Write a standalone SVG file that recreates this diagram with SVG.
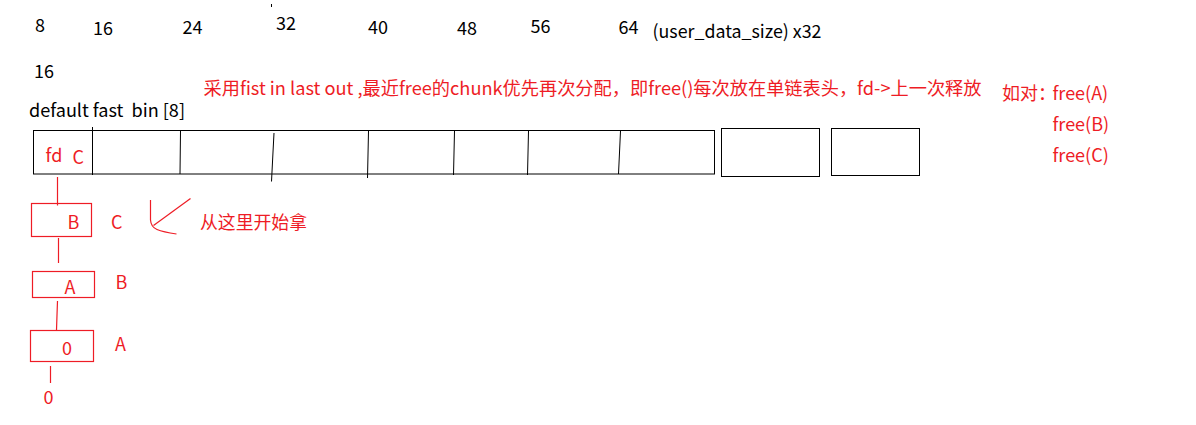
<svg xmlns="http://www.w3.org/2000/svg" width="1196" height="425" viewBox="0 0 1196 425">
<style>
text{font-family:"Noto Sans CJK SC","Noto Sans",sans-serif;font-size:18px}
.k{fill:#000}
.r{fill:#ee1c25}
.bl{fill:none;stroke:#000;stroke-width:1}
.rl{fill:none;stroke:#ee1c25;stroke-width:1.2}
</style>
<rect width="1196" height="425" fill="#fff"/>
<g id="size-labels">
<text class="k" x="35" y="31.5">8</text>
<text class="k" x="93" y="35">16</text>
<text class="k" x="182.5" y="33.5">24</text>
<text class="k" x="276" y="30">32</text>
<text class="k" x="368" y="33.5">40</text>
<text class="k" x="457" y="35">48</text>
<text class="k" x="530.5" y="32.5">56</text>
<text class="k" x="618.5" y="34">64</text>
<text class="k" x="652.5" y="38" textLength="169" lengthAdjust="spacingAndGlyphs">(user_data_size) x32</text>
<line class="bl" x1="271.5" y1="4" x2="271.5" y2="7"/>
<text class="k" x="34" y="77.5">16</text>
<text class="k" x="29" y="116.5" xml:space="preserve" style="white-space:pre" textLength="156" lengthAdjust="spacingAndGlyphs">default fast  bin [8]</text>
</g>
<g id="notes">
<text class="r" x="203.5" y="95" textLength="778" lengthAdjust="spacingAndGlyphs">采用fist in last out ,最近free的chunk优先再次分配，即free()每次放在单链表头，fd-&gt;上一次释放</text>
<text class="r" x="1002" y="99.5">如对：<tspan x="1052.5">free(A)</tspan></text>
<text class="r" x="1052.5" y="131">free(B)</text>
<text class="r" x="1052.5" y="161.5">free(C)</text>
</g>
<g id="fastbin-array">
<rect class="bl" x="33.5" y="130.5" width="681" height="43.5"/>
<polyline class="bl" points="92.5,127 92.5,175"/>
<polyline class="bl" points="180.5,131 180,174"/>
<polyline class="bl" points="274,133 273,152 271.5,181.5"/>
<polyline class="bl" points="368.5,131 367.5,178"/>
<polyline class="bl" points="454.5,131 453.5,175"/>
<polyline class="bl" points="528.5,131 527.5,175"/>
<polyline class="bl" points="620.5,131 618.5,174"/>
<text class="r" x="45.5" y="162">fd</text>
<text class="r" x="72.5" y="164">C</text>
</g>
<g id="box-extra-1"><rect class="bl" x="721.5" y="128.5" width="98" height="48"/></g>
<g id="box-extra-2"><rect class="bl" x="831.5" y="128.5" width="88" height="47"/></g>
<g id="chunk-B">
<rect class="rl" x="31.5" y="203.5" width="60" height="33"/>
<text class="r" x="67.5" y="228.5">B</text>
<text class="r" x="111" y="228.5">C</text>
</g>
<g id="chunk-A">
<rect class="rl" x="32.5" y="271.5" width="62" height="26"/>
<text class="r" x="64.5" y="293.5">A</text>
<text class="r" x="115.5" y="288.5">B</text>
</g>
<g id="chunk-0">
<rect class="rl" x="30.5" y="330.5" width="63" height="31"/>
<text class="r" x="62" y="354.5">0</text>
<text class="r" x="115" y="351">A</text>
</g>
<g id="null-end">
<text class="r" x="43.5" y="403.5">0</text>
</g>
<g id="pointer-note">
<path class="rl" d="M150.5,200 L150.5,220 Q151,227 157,229.5 Q163,232 176.5,234"/>
<line class="rl" x1="153.5" y1="225.5" x2="190.5" y2="198.5"/>
<text class="r" x="200" y="228.5" textLength="107" lengthAdjust="spacingAndGlyphs">从这里开始拿</text>
</g>
<g id="connectors">
<line class="rl" x1="57.5" y1="177" x2="57.5" y2="205.5"/>
<line class="rl" x1="58.5" y1="238" x2="58.5" y2="263"/>
<polyline class="rl" points="57.5,301 57,315 56.5,330"/>
<line class="rl" x1="50.5" y1="366" x2="50.5" y2="383"/>
</g>
</svg>
